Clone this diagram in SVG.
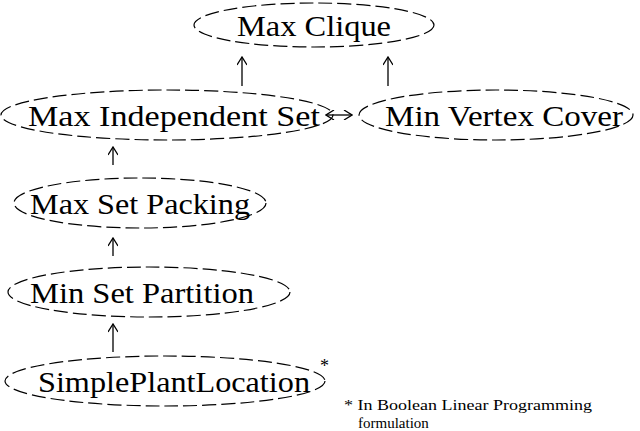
<svg xmlns="http://www.w3.org/2000/svg" width="640" height="431" viewBox="0 0 640 431">
<style>
.n{fill:none;stroke:#000;stroke-width:1.2;stroke-dasharray:14 5}
.t{font-family:"Liberation Serif","Times New Roman","DejaVu Serif",serif;font-size:30px;text-anchor:middle;fill:#000}
.s{font-family:"Liberation Serif","Times New Roman","DejaVu Serif",serif;fill:#000}
.c{stroke:#000;stroke-width:1.3;fill:none}
</style>
<defs><marker id="a" markerWidth="10" markerHeight="10" refX="9" refY="5" orient="auto-start-reverse" markerUnits="userSpaceOnUse" viewBox="0 0 10 10"><path d="M1,0 L9,5 L1,10" fill="none" stroke="#000" stroke-width="1.3"/></marker></defs>
<rect width="640" height="431" fill="#fff"/>
<g id="maxclique"><ellipse class="n" cx="314" cy="25" rx="120" ry="22"/><text class="t" x="314" y="36" textLength="154" lengthAdjust="spacingAndGlyphs">Max Clique</text></g>
<g id="mis"><ellipse class="n" cx="167" cy="115" rx="166" ry="25"/><text class="t" x="174" y="126" textLength="292" lengthAdjust="spacingAndGlyphs">Max Independent Set</text></g>
<g id="mvc"><ellipse class="n" cx="496" cy="115" rx="137" ry="25"/><text class="t" x="504" y="126" textLength="238" lengthAdjust="spacingAndGlyphs">Min Vertex Cover</text></g>
<g id="msp"><ellipse class="n" cx="140" cy="203" rx="126" ry="25"/><text class="t" x="140" y="214" textLength="220" lengthAdjust="spacingAndGlyphs">Max Set Packing</text></g>
<g id="msprt"><ellipse class="n" cx="149" cy="292" rx="141" ry="25"/><text class="t" x="142" y="303" textLength="224" lengthAdjust="spacingAndGlyphs">Min Set Partition</text></g>
<g id="spl"><ellipse class="n" cx="165" cy="381" rx="160" ry="25"/><text class="t" x="174" y="392" textLength="272" lengthAdjust="spacingAndGlyphs">SimplePlantLocation</text><text class="s" x="320" y="372" font-size="18">*</text></g>
<g id="note" class="s" font-size="15"><text x="344" y="410" textLength="248" lengthAdjust="spacingAndGlyphs">* In Boolean Linear Programming</text><text x="358" y="428">formulation</text></g>
<g id="connectors">
<line class="c" x1="242" y1="86" x2="242" y2="57" marker-end="url(#a)"/>
<line class="c" x1="388" y1="86" x2="388" y2="57" marker-end="url(#a)"/>
<line class="c" x1="326" y1="115" x2="352" y2="115" marker-start="url(#a)" marker-end="url(#a)"/>
<line class="c" x1="113" y1="165" x2="113" y2="147" marker-end="url(#a)"/>
<line class="c" x1="113" y1="256" x2="113" y2="238" marker-end="url(#a)"/>
<line class="c" x1="113" y1="352" x2="113" y2="324" marker-end="url(#a)"/>
</g>
</svg>
